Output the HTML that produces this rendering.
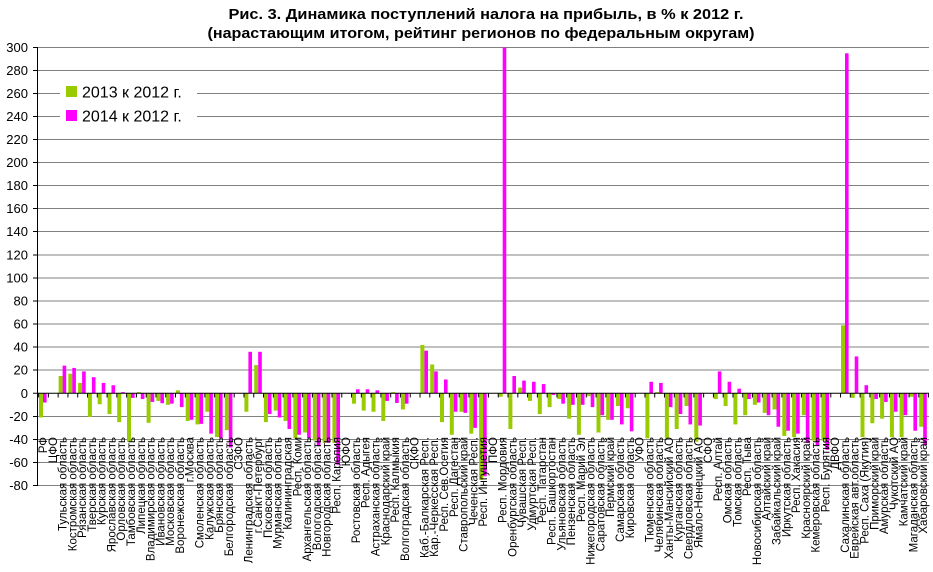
<!DOCTYPE html>
<html><head><meta charset="utf-8"><style>
html,body{margin:0;padding:0;background:#fff;}
svg{display:block;font-family:"Liberation Sans",Arial,sans-serif;}
</style></head><body>
<svg width="933" height="572" viewBox="0 0 933 572" xmlns="http://www.w3.org/2000/svg">
<defs><pattern id="tk" x="38.1" y="393" width="9.78" height="5" patternUnits="userSpaceOnUse"><rect x="0" y="0" width="1" height="5" fill="#000"/></pattern></defs>
<text x="486" y="19" text-anchor="middle" font-weight="bold" font-size="15" textLength="515" lengthAdjust="spacingAndGlyphs">Рис. 3. Динамика поступлений налога на прибыль, в % к 2012 г.</text>
<text x="481" y="38" text-anchor="middle" font-weight="bold" font-size="15" textLength="547" lengthAdjust="spacingAndGlyphs">(нарастающим итогом, рейтинг регионов по федеральным округам)</text>
<g stroke="#808080" stroke-width="1">
<line x1="33" x2="929" y1="47.5" y2="47.5"/><line x1="33" x2="929" y1="70.5" y2="70.5"/><line x1="33" x2="929" y1="93.5" y2="93.5"/><line x1="33" x2="929" y1="116.5" y2="116.5"/><line x1="33" x2="929" y1="139.5" y2="139.5"/><line x1="33" x2="929" y1="162.5" y2="162.5"/><line x1="33" x2="929" y1="185.5" y2="185.5"/><line x1="33" x2="929" y1="208.5" y2="208.5"/><line x1="33" x2="929" y1="231.5" y2="231.5"/><line x1="33" x2="929" y1="255" y2="255"/><line x1="33" x2="929" y1="278" y2="278"/><line x1="33" x2="929" y1="301" y2="301"/><line x1="33" x2="929" y1="324" y2="324"/><line x1="33" x2="929" y1="347" y2="347"/><line x1="33" x2="929" y1="370" y2="370"/><line x1="33" x2="929" y1="416.5" y2="416.5"/><line x1="33" x2="929" y1="439.5" y2="439.5"/><line x1="33" x2="929" y1="462.5" y2="462.5"/><line x1="33" x2="929" y1="485.5" y2="485.5"/>
</g>
<g stroke="#000"><line x1="33" x2="38" y1="47.5" y2="47.5"/><line x1="33" x2="38" y1="70.5" y2="70.5"/><line x1="33" x2="38" y1="93.5" y2="93.5"/><line x1="33" x2="38" y1="116.5" y2="116.5"/><line x1="33" x2="38" y1="139.5" y2="139.5"/><line x1="33" x2="38" y1="162.5" y2="162.5"/><line x1="33" x2="38" y1="185.5" y2="185.5"/><line x1="33" x2="38" y1="208.5" y2="208.5"/><line x1="33" x2="38" y1="231.5" y2="231.5"/><line x1="33" x2="38" y1="255" y2="255"/><line x1="33" x2="38" y1="278" y2="278"/><line x1="33" x2="38" y1="301" y2="301"/><line x1="33" x2="38" y1="324" y2="324"/><line x1="33" x2="38" y1="347" y2="347"/><line x1="33" x2="38" y1="370" y2="370"/><line x1="33" x2="38" y1="416.5" y2="416.5"/><line x1="33" x2="38" y1="439.5" y2="439.5"/><line x1="33" x2="38" y1="462.5" y2="462.5"/><line x1="33" x2="38" y1="485.5" y2="485.5"/></g>
<g font-size="13" text-anchor="end">
<text x="28" y="52">300</text><text x="28" y="75">280</text><text x="28" y="98">260</text><text x="28" y="121">240</text><text x="28" y="144">220</text><text x="28" y="167">200</text><text x="28" y="190">180</text><text x="28" y="213">160</text><text x="28" y="236">140</text><text x="28" y="259.5">120</text><text x="28" y="282.5">100</text><text x="28" y="305.5">80</text><text x="28" y="328.5">60</text><text x="28" y="351.5">40</text><text x="28" y="374.5">20</text><text x="28" y="398">0</text><text x="28" y="421">-20</text><text x="28" y="444">-40</text><text x="28" y="467">-60</text><text x="28" y="490">-80</text>
</g>
<rect x="60" y="79" width="137" height="48" fill="#fff"/>
<rect x="66" y="86" width="11" height="11" fill="#99cc00"/>
<text x="82" y="97.5" font-size="16">2013 к 2012 г.</text>
<rect x="66" y="110" width="11" height="11" fill="#ff00ff"/>
<text x="82" y="121.5" font-size="16">2014 к 2012 г.</text>
<g transform="translate(0,393.3) scale(1,-1.1525)">
<g fill="#99cc00">
<rect x="39" y="-21" width="4" height="21"/>
<rect x="58.6" y="0" width="4" height="15"/>
<rect x="68.3" y="0" width="4" height="17"/>
<rect x="78.1" y="0" width="4" height="9"/>
<rect x="87.9" y="-20.5" width="4" height="20.5"/>
<rect x="97.7" y="-9.5" width="4" height="9.5"/>
<rect x="107.5" y="-18" width="4" height="18"/>
<rect x="117.2" y="-25" width="4" height="25"/>
<rect x="127" y="-42" width="4" height="42"/>
<rect x="136.8" y="0" width="4" height="1"/>
<rect x="146.6" y="-25.6" width="4" height="25.6"/>
<rect x="156.4" y="-6.6" width="4" height="6.6"/>
<rect x="166.1" y="-10" width="4" height="10"/>
<rect x="175.9" y="0" width="4" height="2.6"/>
<rect x="185.7" y="-24" width="4" height="24"/>
<rect x="195.5" y="-27" width="4" height="27"/>
<rect x="205.3" y="-16" width="4" height="16"/>
<rect x="215" y="-38" width="4" height="38"/>
<rect x="224.8" y="-32" width="4" height="32"/>
<rect x="244.4" y="-16" width="4" height="16"/>
<rect x="254.2" y="0" width="4" height="24.5"/>
<rect x="263.9" y="-25" width="4" height="25"/>
<rect x="273.7" y="-15" width="4" height="15"/>
<rect x="283.5" y="-24" width="4" height="24"/>
<rect x="293.3" y="-39" width="4" height="39"/>
<rect x="303.1" y="-34" width="4" height="34"/>
<rect x="312.8" y="-41" width="4" height="41"/>
<rect x="322.6" y="-43" width="4" height="43"/>
<rect x="332.4" y="-43" width="4" height="43"/>
<rect x="352" y="-9" width="4" height="9"/>
<rect x="361.7" y="-15" width="4" height="15"/>
<rect x="371.5" y="-16" width="4" height="16"/>
<rect x="381.3" y="-24" width="4" height="24"/>
<rect x="391.1" y="0" width="4" height="1"/>
<rect x="400.9" y="-14" width="4" height="14"/>
<rect x="420.4" y="0" width="4" height="42"/>
<rect x="430.2" y="0" width="4" height="25"/>
<rect x="440" y="-25" width="4" height="25"/>
<rect x="449.8" y="-36" width="4" height="36"/>
<rect x="459.5" y="-16" width="4" height="16"/>
<rect x="469.3" y="-35" width="4" height="35"/>
<rect x="479.1" y="-75" width="4" height="75"/>
<rect x="498.7" y="-3" width="4" height="3"/>
<rect x="508.4" y="-31" width="4" height="31"/>
<rect x="518.2" y="0" width="4" height="5"/>
<rect x="528" y="-6.6" width="4" height="6.6"/>
<rect x="537.8" y="-18" width="4" height="18"/>
<rect x="547.6" y="-12" width="4" height="12"/>
<rect x="557.3" y="-5" width="4" height="5"/>
<rect x="567.1" y="-22" width="4" height="22"/>
<rect x="576.9" y="-36" width="4" height="36"/>
<rect x="586.7" y="-2.5" width="4" height="2.5"/>
<rect x="596.5" y="-34" width="4" height="34"/>
<rect x="606.2" y="-23" width="4" height="23"/>
<rect x="616" y="-11" width="4" height="11"/>
<rect x="625.8" y="-13" width="4" height="13"/>
<rect x="645.4" y="-39" width="4" height="39"/>
<rect x="655.1" y="0" width="4" height="1"/>
<rect x="664.9" y="-39" width="4" height="39"/>
<rect x="674.7" y="-31" width="4" height="31"/>
<rect x="684.5" y="-11" width="4" height="11"/>
<rect x="694.3" y="-42" width="4" height="42"/>
<rect x="713.8" y="-5" width="4" height="5"/>
<rect x="723.6" y="-11" width="4" height="11"/>
<rect x="733.4" y="-27" width="4" height="27"/>
<rect x="743.2" y="-19" width="4" height="19"/>
<rect x="752.9" y="-10" width="4" height="10"/>
<rect x="762.7" y="-17" width="4" height="17"/>
<rect x="772.5" y="-14" width="4" height="14"/>
<rect x="782.3" y="-37" width="4" height="37"/>
<rect x="792.1" y="-38" width="4" height="38"/>
<rect x="801.8" y="-19" width="4" height="19"/>
<rect x="811.6" y="-41" width="4" height="41"/>
<rect x="821.4" y="-41" width="4" height="41"/>
<rect x="841" y="0" width="4" height="59"/>
<rect x="850.7" y="-4" width="4" height="4"/>
<rect x="860.5" y="-38" width="4" height="38"/>
<rect x="870.3" y="-26" width="4" height="26"/>
<rect x="880.1" y="-22" width="4" height="22"/>
<rect x="889.9" y="-38" width="4" height="38"/>
<rect x="899.6" y="-38" width="4" height="38"/>
<rect x="909.4" y="-3" width="4" height="3"/>
<rect x="919.2" y="-29" width="4" height="29"/>
</g>
<g fill="#ff00ff">
<rect x="43" y="-8" width="3.6" height="8"/>
<rect x="62.6" y="0" width="3.6" height="24"/>
<rect x="72.3" y="0" width="3.6" height="22"/>
<rect x="82.1" y="0" width="3.6" height="19"/>
<rect x="91.9" y="0" width="3.6" height="14"/>
<rect x="101.7" y="0" width="3.6" height="9"/>
<rect x="111.5" y="0" width="3.6" height="7"/>
<rect x="121.2" y="0" width="3.6" height="1"/>
<rect x="131" y="-4" width="3.6" height="4"/>
<rect x="140.8" y="-5" width="3.6" height="5"/>
<rect x="150.6" y="-7.5" width="3.6" height="7.5"/>
<rect x="160.4" y="-8.6" width="3.6" height="8.6"/>
<rect x="170.1" y="-9" width="3.6" height="9"/>
<rect x="179.9" y="-12" width="3.6" height="12"/>
<rect x="189.7" y="-23" width="3.6" height="23"/>
<rect x="199.5" y="-26.5" width="3.6" height="26.5"/>
<rect x="209.3" y="-35" width="3.6" height="35"/>
<rect x="219" y="-39" width="3.6" height="39"/>
<rect x="228.8" y="-47" width="3.6" height="47"/>
<rect x="248.4" y="0" width="3.6" height="36"/>
<rect x="258.2" y="0" width="3.6" height="36"/>
<rect x="267.9" y="-18" width="3.6" height="18"/>
<rect x="277.7" y="-21" width="3.6" height="21"/>
<rect x="287.5" y="-31" width="3.6" height="31"/>
<rect x="297.3" y="-36" width="3.6" height="36"/>
<rect x="307.1" y="-39" width="3.6" height="39"/>
<rect x="316.8" y="-46" width="3.6" height="46"/>
<rect x="326.6" y="-43" width="3.6" height="43"/>
<rect x="336.4" y="-62" width="3.6" height="62"/>
<rect x="356" y="0" width="3.6" height="3.5"/>
<rect x="365.7" y="0" width="3.6" height="3.5"/>
<rect x="375.5" y="0" width="3.6" height="2.6"/>
<rect x="385.3" y="-6.6" width="3.6" height="6.6"/>
<rect x="395.1" y="-8.4" width="3.6" height="8.4"/>
<rect x="404.9" y="-9" width="3.6" height="9"/>
<rect x="424.4" y="0" width="3.6" height="37"/>
<rect x="434.2" y="0" width="3.6" height="19"/>
<rect x="444" y="0" width="3.6" height="12"/>
<rect x="453.8" y="-16" width="3.6" height="16"/>
<rect x="463.5" y="-17" width="3.6" height="17"/>
<rect x="473.3" y="-30" width="3.6" height="30"/>
<rect x="483.1" y="-72" width="3.6" height="72"/>
<rect x="502.7" y="0" width="3.6" height="300"/>
<rect x="512.4" y="0" width="3.6" height="15"/>
<rect x="522.2" y="0" width="3.6" height="11"/>
<rect x="532" y="0" width="3.6" height="10"/>
<rect x="541.8" y="0" width="3.6" height="8"/>
<rect x="551.6" y="-1.5" width="3.6" height="1.5"/>
<rect x="561.3" y="-9" width="3.6" height="9"/>
<rect x="571.1" y="-10" width="3.6" height="10"/>
<rect x="580.9" y="-10" width="3.6" height="10"/>
<rect x="590.7" y="-12" width="3.6" height="12"/>
<rect x="600.5" y="-19" width="3.6" height="19"/>
<rect x="610.2" y="-23" width="3.6" height="23"/>
<rect x="620" y="-27" width="3.6" height="27"/>
<rect x="629.8" y="-33" width="3.6" height="33"/>
<rect x="649.4" y="0" width="3.6" height="10"/>
<rect x="659.1" y="0" width="3.6" height="9"/>
<rect x="668.9" y="-12" width="3.6" height="12"/>
<rect x="678.7" y="-18" width="3.6" height="18"/>
<rect x="688.5" y="-27" width="3.6" height="27"/>
<rect x="698.3" y="-28" width="3.6" height="28"/>
<rect x="717.8" y="0" width="3.6" height="19"/>
<rect x="727.6" y="0" width="3.6" height="10"/>
<rect x="737.4" y="0" width="3.6" height="4"/>
<rect x="747.2" y="-5" width="3.6" height="5"/>
<rect x="756.9" y="-8" width="3.6" height="8"/>
<rect x="766.7" y="-19" width="3.6" height="19"/>
<rect x="776.5" y="-29" width="3.6" height="29"/>
<rect x="786.3" y="-32.5" width="3.6" height="32.5"/>
<rect x="796.1" y="-35" width="3.6" height="35"/>
<rect x="805.8" y="-43" width="3.6" height="43"/>
<rect x="815.6" y="-45" width="3.6" height="45"/>
<rect x="825.4" y="-49" width="3.6" height="49"/>
<rect x="845" y="0" width="3.6" height="295"/>
<rect x="854.7" y="0" width="3.6" height="32"/>
<rect x="864.5" y="0" width="3.6" height="7"/>
<rect x="874.3" y="-5" width="3.6" height="5"/>
<rect x="884.1" y="-7.5" width="3.6" height="7.5"/>
<rect x="893.9" y="-16" width="3.6" height="16"/>
<rect x="903.6" y="-19" width="3.6" height="19"/>
<rect x="913.4" y="-32.5" width="3.6" height="32.5"/>
<rect x="923.2" y="-45" width="3.6" height="45"/>
</g>
</g>
<line x1="37.5" x2="37.5" y1="47" y2="486" stroke="#000"/>
<line x1="33" x2="929" y1="393.3" y2="393.3" stroke="#000"/>
<rect x="38" y="393" width="891" height="4.5" fill="url(#tk)"/>
<g font-size="11.5" text-anchor="end">
<text transform="translate(47,437) rotate(-90)">РФ</text>
<text transform="translate(56.8,437) rotate(-90)">ЦФО</text>
<text transform="translate(66.6,437) rotate(-90)">Тульская область</text>
<text transform="translate(76.3,437) rotate(-90)">Костромская область</text>
<text transform="translate(86.1,437) rotate(-90)">Рязанская область</text>
<text transform="translate(95.9,437) rotate(-90)">Тверская область</text>
<text transform="translate(105.7,437) rotate(-90)">Курская область</text>
<text transform="translate(115.5,437) rotate(-90)">Ярославская область</text>
<text transform="translate(125.2,437) rotate(-90)">Орловская область</text>
<text transform="translate(135,437) rotate(-90)">Тамбовская область</text>
<text transform="translate(144.8,437) rotate(-90)">Липецкая область</text>
<text transform="translate(154.6,437) rotate(-90)">Владимирская область</text>
<text transform="translate(164.4,437) rotate(-90)">Ивановская область</text>
<text transform="translate(174.1,437) rotate(-90)">Московская область</text>
<text transform="translate(183.9,437) rotate(-90)">Воронежская область</text>
<text transform="translate(193.7,437) rotate(-90)">г.Москва</text>
<text transform="translate(203.5,437) rotate(-90)">Смоленская область</text>
<text transform="translate(213.3,437) rotate(-90)">Калужская область</text>
<text transform="translate(223,437) rotate(-90)">Брянская область</text>
<text transform="translate(232.8,437) rotate(-90)">Белгородская область</text>
<text transform="translate(242.6,437) rotate(-90)">СЗФО</text>
<text transform="translate(252.4,437) rotate(-90)">Ленинградская область</text>
<text transform="translate(262.2,437) rotate(-90)">г.Санкт-Петербург</text>
<text transform="translate(271.9,437) rotate(-90)">Псковская область</text>
<text transform="translate(281.7,437) rotate(-90)">Мурманская область</text>
<text transform="translate(291.5,437) rotate(-90)">Калининградская</text>
<text transform="translate(301.3,437) rotate(-90)">Респ. Коми</text>
<text transform="translate(311.1,437) rotate(-90)">Архангельская область</text>
<text transform="translate(320.8,437) rotate(-90)">Вологодская область</text>
<text transform="translate(330.6,437) rotate(-90)">Новгородская область</text>
<text transform="translate(340.4,437) rotate(-90)">Респ. Карелия</text>
<text transform="translate(350.2,437) rotate(-90)">ЮФО</text>
<text transform="translate(360,437) rotate(-90)">Ростовская область</text>
<text transform="translate(369.7,437) rotate(-90)">Респ. Адыгея</text>
<text transform="translate(379.5,437) rotate(-90)">Астраханская область</text>
<text transform="translate(389.3,437) rotate(-90)">Краснодарский край</text>
<text transform="translate(399.1,437) rotate(-90)">Респ. Калмыкия</text>
<text transform="translate(408.9,437) rotate(-90)">Волгоградская область</text>
<text transform="translate(418.6,437) rotate(-90)">СКФО</text>
<text transform="translate(428.4,437) rotate(-90)">Каб.-Балкарская Респ.</text>
<text transform="translate(438.2,437) rotate(-90)">Кар.-Черкесская Респ.</text>
<text transform="translate(448,437) rotate(-90)">Респ. Сев.Осетия</text>
<text transform="translate(457.8,437) rotate(-90)">Респ. Дагестан</text>
<text transform="translate(467.5,437) rotate(-90)">Ставропольский край</text>
<text transform="translate(477.3,437) rotate(-90)">Чеченская Респ.</text>
<text transform="translate(487.1,437) rotate(-90)">Респ. Ингушетия</text>
<text transform="translate(496.9,437) rotate(-90)">ПФО</text>
<text transform="translate(506.7,437) rotate(-90)">Респ. Мордовия</text>
<text transform="translate(516.4,437) rotate(-90)">Оренбургская область</text>
<text transform="translate(526.2,437) rotate(-90)">Чувашская Респ.</text>
<text transform="translate(536,437) rotate(-90)">Удмуртская Респ.</text>
<text transform="translate(545.8,437) rotate(-90)">Респ. Татарстан</text>
<text transform="translate(555.6,437) rotate(-90)">Респ. Башкортостан</text>
<text transform="translate(565.3,437) rotate(-90)">Ульяновская область</text>
<text transform="translate(575.1,437) rotate(-90)">Пензенская область</text>
<text transform="translate(584.9,437) rotate(-90)">Респ. Марий Эл</text>
<text transform="translate(594.7,437) rotate(-90)">Нижегородская область</text>
<text transform="translate(604.5,437) rotate(-90)">Саратовская область</text>
<text transform="translate(614.2,437) rotate(-90)">Пермский край</text>
<text transform="translate(624,437) rotate(-90)">Самарская область</text>
<text transform="translate(633.8,437) rotate(-90)">Кировская область</text>
<text transform="translate(643.6,437) rotate(-90)">УФО</text>
<text transform="translate(653.4,437) rotate(-90)">Тюменская область</text>
<text transform="translate(663.1,437) rotate(-90)">Челябинская область</text>
<text transform="translate(672.9,437) rotate(-90)">Ханты-Мансийский АО</text>
<text transform="translate(682.7,437) rotate(-90)">Курганская область</text>
<text transform="translate(692.5,437) rotate(-90)">Свердловская область</text>
<text transform="translate(702.3,437) rotate(-90)">Ямало-Ненецкий АО</text>
<text transform="translate(712,437) rotate(-90)">СФО</text>
<text transform="translate(721.8,437) rotate(-90)">Респ. Алтай</text>
<text transform="translate(731.6,437) rotate(-90)">Омская область</text>
<text transform="translate(741.4,437) rotate(-90)">Томская область</text>
<text transform="translate(751.2,437) rotate(-90)">Респ. Тыва</text>
<text transform="translate(760.9,437) rotate(-90)">Новосибирская область</text>
<text transform="translate(770.7,437) rotate(-90)">Алтайский край</text>
<text transform="translate(780.5,437) rotate(-90)">Забайкальский край</text>
<text transform="translate(790.3,437) rotate(-90)">Иркутская область</text>
<text transform="translate(800.1,437) rotate(-90)">Респ. Хакасия</text>
<text transform="translate(809.8,437) rotate(-90)">Красноярский край</text>
<text transform="translate(819.6,437) rotate(-90)">Кемеровская область</text>
<text transform="translate(829.4,437) rotate(-90)">Респ. Бурятия</text>
<text transform="translate(839.2,437) rotate(-90)">ДВФО</text>
<text transform="translate(849,437) rotate(-90)">Сахалинская область</text>
<text transform="translate(858.7,437) rotate(-90)">Еврейская авт.область</text>
<text transform="translate(868.5,437) rotate(-90)">Респ. Саха (Якутия)</text>
<text transform="translate(878.3,437) rotate(-90)">Приморский край</text>
<text transform="translate(888.1,437) rotate(-90)">Амурская область</text>
<text transform="translate(897.9,437) rotate(-90)">Чукотский АО</text>
<text transform="translate(907.6,437) rotate(-90)">Камчатский край</text>
<text transform="translate(917.4,437) rotate(-90)">Магаданская область</text>
<text transform="translate(927.2,437) rotate(-90)">Хабаровский край</text>
</g>
</svg>
</body></html>
